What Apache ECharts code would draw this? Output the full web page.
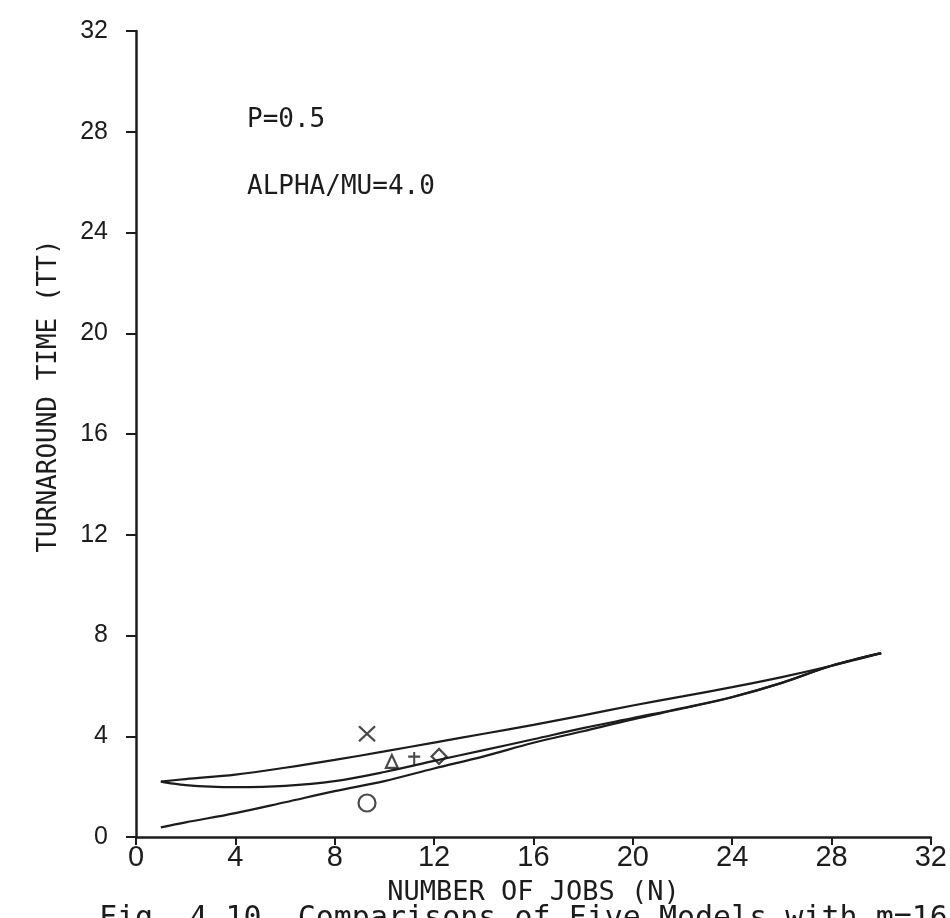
<!DOCTYPE html>
<html>
<head>
<meta charset="utf-8">
<script src="https://cdn.jsdelivr.net/npm/echarts/dist/echarts.min.js"></script>
<style>
html,body{margin:0;padding:0;background:#ffffff;}
#chart{width:950px;height:918px;}
</style>
</head>
<body>
<div id="chart"></div>
<script>
// ---- data ----
const xTickLabels = ['0','4','8','12','16','20','24','28','32'];
const yTickLabels = ['0','4','8','12','16','20','24','28','32'];

const upperX = [1, 2, 4, 6, 8, 10, 12, 14, 16, 18, 20, 22, 24, 26, 28, 30];
const upperY = [2.2, 2.3, 2.48, 2.75, 3.06, 3.4, 3.75, 4.1, 4.45, 4.83, 5.22, 5.58, 5.95, 6.35, 6.8, 7.3];

const middleX = [1, 1.5, 2, 3, 4, 6, 8, 10, 12, 14, 16, 18, 20, 22, 24, 26, 28, 30];
const middleY = [2.2, 2.12, 2.06, 2.0, 1.98, 2.03, 2.22, 2.58, 3.02, 3.45, 3.88, 4.32, 4.72, 5.12, 5.56, 6.12, 6.8, 7.3];

const lowerX = [1, 2, 4, 6, 8, 10, 12, 14, 16, 18, 20, 22, 24, 26, 28, 30];
const lowerY = [0.38, 0.58, 0.95, 1.38, 1.82, 2.22, 2.72, 3.2, 3.74, 4.2, 4.67, 5.1, 5.55, 6.12, 6.8, 7.3];

const modelNames = ['X', 'Triangle', 'Plus', 'Diamond', 'Circle'];
const modelX = [9.3, 10.3, 11.2, 12.2, 9.3];
const modelY = [4.1, 3.0, 3.1, 3.2, 1.35];

const annotations = ['P=0.5', 'ALPHA/MU=4.0'];
const caption = 'Fig. 4.10  Comparisons of Five Models with m=16';
const xAxisTitle = 'NUMBER OF JOBS (N)';
const yAxisTitle = 'TURNAROUND TIME (TT)';

// ---- styling ----
const INK = '#1c1c1c';
const MONO = '"DejaVu Sans Mono", "Liberation Mono", monospace';
const SANS = '"Liberation Sans", Arial, sans-serif';

function pairs(xs, ys) { return xs.map((x, i) => [x, ys[i]]); }

const symbolDefs = [
  { symbol: 'path://M0,0L10,10M10,0L0,10', size: [16, 15] },
  { symbol: 'triangle', size: [12, 13] },
  { symbol: 'path://M5,0L5,12M0,4L10,4', size: [12, 14] },
  { symbol: 'diamond', size: [15, 15] },
  { symbol: 'circle', size: 17 }
];

const lineSeries = [
  { name: 'upper', data: pairs(upperX, upperY) },
  { name: 'middle', data: pairs(middleX, middleY) },
  { name: 'lower', data: pairs(lowerX, lowerY) }
].map(s => ({
  type: 'line',
  name: s.name,
  data: s.data,
  smooth: 0.35,
  showSymbol: false,
  lineStyle: { color: INK, width: 2.2 },
  z: 2,
  silent: true
}));

const markerSeries = modelNames.map((n, i) => ({
  type: 'scatter',
  name: n,
  data: [[modelX[i], modelY[i]]],
  symbol: symbolDefs[i].symbol,
  symbolSize: symbolDefs[i].size,
  itemStyle: { color: 'rgba(0,0,0,0)', borderColor: INK, borderWidth: 2.2 },
  z: 3,
  silent: true
}));

const chart = echarts.init(document.getElementById('chart'), null, { renderer: 'canvas' });

chart.setOption({
  backgroundColor: '#ffffff',
  animation: false,
  grid: { left: 136, right: 18, top: 31, bottom: 81, containLabel: false },
  xAxis: {
    type: 'value',
    min: 0, max: 32, interval: 4,
    name: xAxisTitle,
    nameLocation: 'middle',
    nameGap: 42,
    nameTextStyle: { fontFamily: MONO, fontSize: 27, color: INK },
    axisLine: { show: true, onZero: false, lineStyle: { color: INK, width: 2.5 } },
    axisTick: { show: true, inside: false, length: 8, lineStyle: { color: INK, width: 2 } },
    axisLabel: {
      show: true, margin: 6, fontFamily: SANS, fontSize: 29, color: INK,
      showMinLabel: true, showMaxLabel: true,
      formatter: (v) => xTickLabels[Math.round(v / 4)]
    },
    splitLine: { show: false }
  },
  yAxis: {
    type: 'value',
    min: 0, max: 32, interval: 4,
    name: yAxisTitle,
    nameLocation: 'middle',
    nameRotate: 90,
    nameGap: 74,
    nameTextStyle: { fontFamily: MONO, fontSize: 26, color: INK, padding: [0, 0, 0, 76] },
    axisLine: { show: true, onZero: false, lineStyle: { color: INK, width: 2.5 } },
    axisTick: { show: true, inside: false, length: 10, lineStyle: { color: INK, width: 2 } },
    axisLabel: {
      show: true, margin: 28, fontFamily: SANS, fontSize: 25, color: INK,
      showMinLabel: true, showMaxLabel: true,
      formatter: (v) => yTickLabels[Math.round(v / 4)]
    },
    splitLine: { show: false }
  },
  graphic: [
    { type: 'text', left: 247, top: 107, style: { text: annotations[0], font: '26px ' + MONO, fill: INK } },
    { type: 'text', left: 247, top: 174, style: { text: annotations[1], font: '26px ' + MONO, fill: INK } },
    { type: 'text', left: 99, top: 904, style: { text: caption, font: '30px ' + MONO, fill: INK } }
  ],
  series: lineSeries.concat(markerSeries)
});
</script>
</body>
</html>
